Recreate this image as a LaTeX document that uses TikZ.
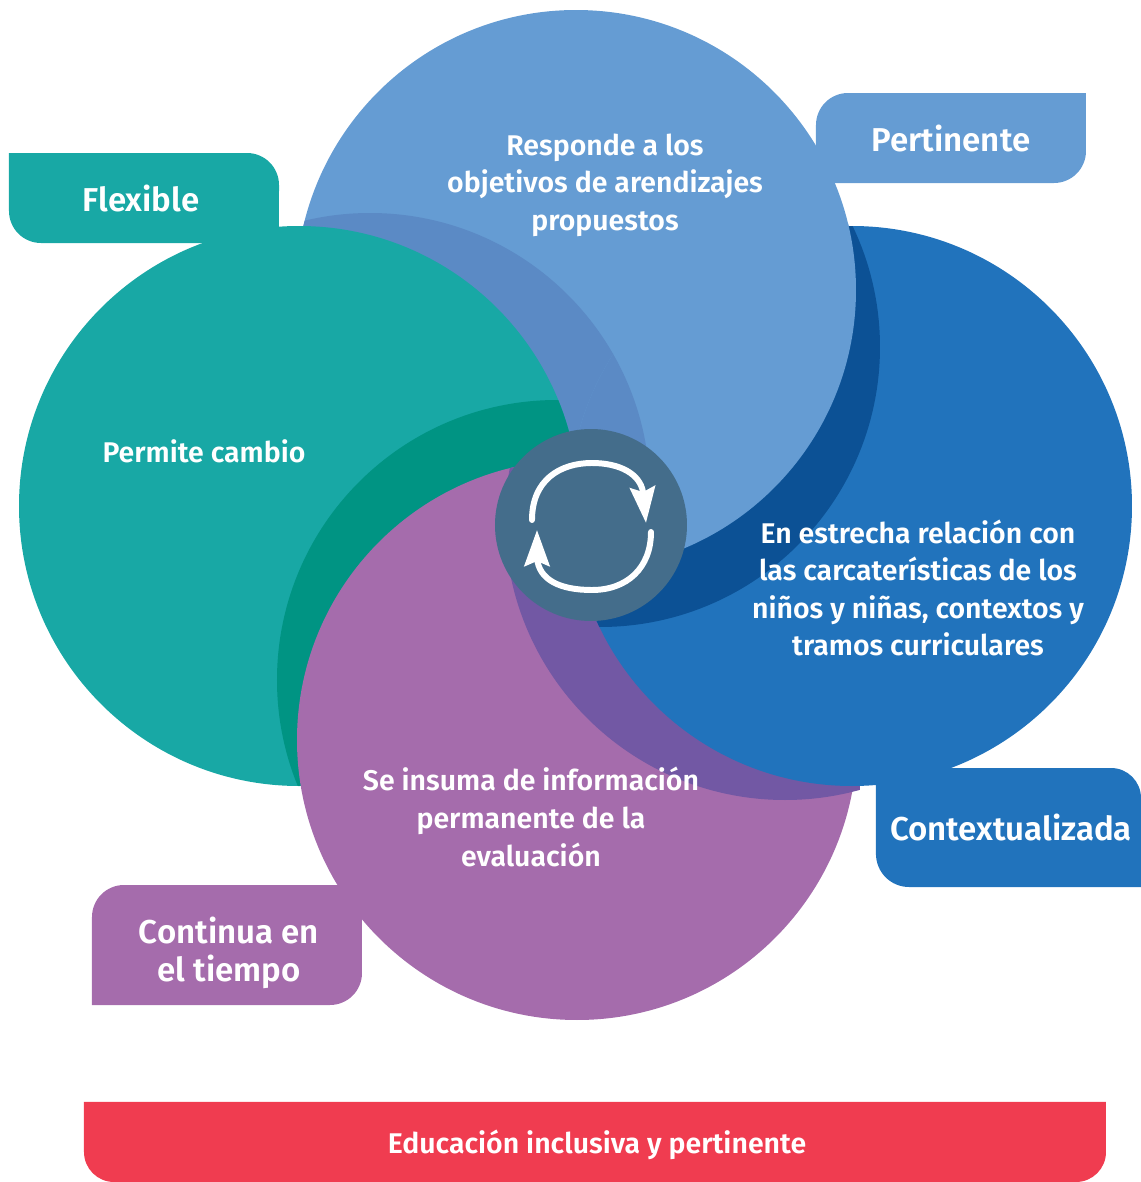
\documentclass[tikz,border=0pt]{standalone}
\usepackage{fontspec}
\setmainfont{Fira Sans}[BoldFont={Fira Sans SemiBold}]
\usetikzlibrary{arrows.meta}

\definecolor{tealmain}{HTML}{18A8A5}
\definecolor{tealband}{HTML}{009483}
\definecolor{skymain}{HTML}{659CD3}
\definecolor{skyband}{HTML}{5B8AC5}
\definecolor{bluemain}{HTML}{2173BC}
\definecolor{blueband}{HTML}{0C5195}
\definecolor{purplemain}{HTML}{A56CAC}
\definecolor{purpleband}{HTML}{7258A4}
\definecolor{hubcolor}{HTML}{446D8B}
\definecolor{barcolor}{HTML}{F03C50}

\tikzset{
  bodytext/.style={text=white, font=\fontsize{8.1}{10.7}\selectfont\bfseries, align=center},
  tabtext/.style={text=white, font=\fontsize{9.4}{10.9}\selectfont\bfseries, align=center},
  cyclearrow/.style={white, line width=1.7pt, line cap=round, -{Stealth[length=0.36cm, width=0.25cm, inset=0.05cm]}},
}

\begin{document}
\begin{tikzpicture}
\useasboundingbox (0,0) rectangle (11.41,11.82);

\fill[tealmain] (0.09,10.29) -- (2.47,10.29) arc[start angle=90, delta angle=-90, radius=0.32] -- (2.79,9.39) -- (0.41,9.39) arc[start angle=270, delta angle=-90, radius=0.32] -- cycle;
\fill[skymain] (8.48,10.89) -- (10.86,10.89) -- (10.86,10.31) arc[start angle=0, delta angle=-90, radius=0.32] -- (8.16,9.99) -- (8.16,10.57) arc[start angle=180, delta angle=-90, radius=0.32] -- cycle;
\fill[bluemain] (8.76,3.27) -- (8.76,4.14) -- (11.11,4.14) arc[start angle=90, delta angle=-90, radius=0.30] -- (11.41,2.95) -- (9.09,2.95) arc[start angle=270, delta angle=-90, radius=0.33] -- cycle;
\fill[purplemain] (1.24,2.97) -- (3.62,2.97) -- (3.62,2.09) arc[start angle=0, delta angle=-90, radius=0.32] -- (0.92,1.77) -- (0.92,2.65) arc[start angle=180, delta angle=-90, radius=0.32] -- cycle;
\fill[barcolor] (0.84,0.80) -- (11.06,0.80) -- (11.06,0.30) arc[start angle=0, delta angle=-90, radius=0.30] -- (1.14,0) arc[start angle=270, delta angle=-90, radius=0.30] -- cycle;

\fill[skymain] (5.76,8.92) circle[radius=2.8];
\begin{scope}
\clip (5.76,8.92) circle[radius=2.8];
\fill[skyband] (3.70,6.89) circle[radius=2.8];
\end{scope}

\fill[tealmain] (2.99,6.76) circle[radius=2.8];
\begin{scope}
\clip (2.99,6.76) circle[radius=2.8];
\fill[tealband] (5.57,5.02) circle[radius=2.8];
\end{scope}

\fill[purplemain] (5.77,4.42) circle[radius=2.8];
\begin{scope}
\clip (5.77,4.42) circle[radius=2.8] (8.2,4.1) rectangle (8.60,3.8);
\fill[purpleband] (7.85,6.62) circle[radius=2.8];
\end{scope}

\fill[bluemain] (8.52,6.76) circle[radius=2.8];
\begin{scope}
\clip (8.52,6.76) circle[radius=2.8];
\fill[blueband] (6.00,8.35) circle[radius=2.8];
\end{scope}
\begin{scope}
\clip (8.52,6.76) circle[radius=2.83];
\fill[skymain] (5.76,8.92) circle[radius=2.8];
\clip (5.76,8.92) circle[radius=2.8];
\fill[skyband] (3.70,6.89) circle[radius=2.8];
\end{scope}

\fill[hubcolor] (5.91,6.57) circle[radius=0.96];

\coordinate (topstart) at (5.32,6.62);
\coordinate (toptip) at (6.46,6.59);
\coordinate (bottomstart) at (6.51,6.50);
\coordinate (bottomtip) at (5.37,6.52);
\draw[cyclearrow] (topstart) .. controls (5.32,7.02) and (5.60,7.19) .. (5.92,7.19) .. controls (6.20,7.19) and (6.40,7.08) .. (6.43,6.90) -- (toptip);
\draw[cyclearrow] (bottomstart) .. controls (6.51,6.14) and (6.27,5.92) .. (5.92,5.92) .. controls (5.60,5.92) and (5.39,6.02) .. (5.37,6.24) -- (bottomtip);

\node[tabtext] at (1.41,9.84) (flexibletab) {Flexible};
\node[tabtext] at (9.51,10.44) (pertinentetab) {Pertinente};
\node[tabtext] at (10.11,3.55) (contextotab) {Contextualizada};
\node[tabtext] at (2.29,2.29) (continuatab) {Continua en\\el tiempo};

\node[bodytext] at (6.05,9.97) (respondetext) {Responde a los\\objetivos de arendizajes\\propuestos};
\node[bodytext] at (2.04,7.31) (permitetext) {Permite cambio};
\node[bodytext] at (9.18,5.94) (relaciontext) {En estrecha relación con\\las carcaterísticas de los\\niños y niñas, contextos y\\tramos curriculares};
\node[bodytext] at (5.31,3.65) (insumatext) {Se insuma de información\\permanente de la\\evaluación};
\node[bodytext] at (5.97,0.37) (bartext) {Educación inclusiva y pertinente};
\end{tikzpicture}
\end{document}
